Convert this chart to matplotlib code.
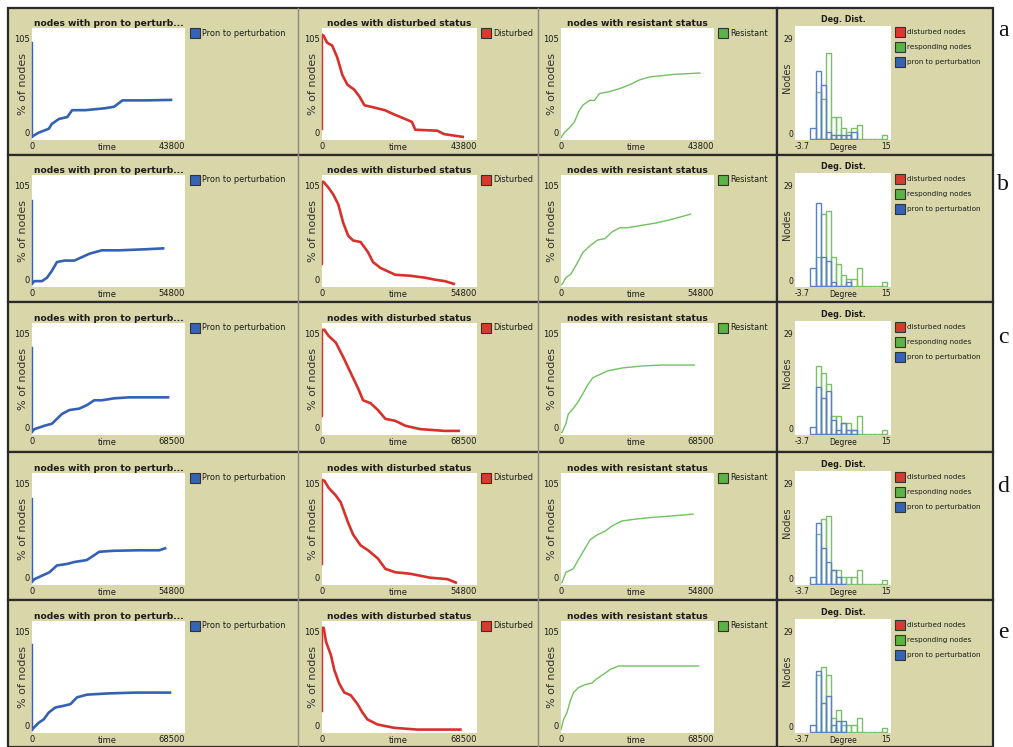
import matplotlib
matplotlib.use("Agg")
import matplotlib.pyplot as plt
from matplotlib.patches import Rectangle

W, H = 1013, 747

# ---- data ----
panel_labels = ["a", "b", "c", "d", "e"]
time_max = [43800, 54800, 68500, 54800, 68500]

# blue pen "Pron to perturbation" (value of the first plotted point, then the curve)
pron_start = [98, 86, 87, 86, 88]
pron_t = [
    [0, 480, 1900, 4800, 5700, 7700, 10100, 11500, 15300, 21000, 23500, 25900, 32600, 39800],
    [0, 880, 3560, 5370, 7120, 8930, 11620, 15180, 17860, 20550, 24990, 31240, 40170, 46960],
    [0, 1120, 5580, 8920, 11160, 13390, 16730, 21200, 24540, 27890, 31230, 36810, 43510, 52430, 60910],
    [0, 880, 3560, 6250, 8930, 12490, 15180, 19620, 22300, 24110, 29430, 38360, 45540, 47680],
    [0, 750, 3000, 5230, 7480, 10470, 14210, 17200, 20190, 24670, 34400, 46370, 61780],
]
pron_v = [
    [1, 2, 5, 9, 14, 19, 21, 28, 28, 30, 31.5, 38, 38, 38.5],
    [1, 3.5, 3.5, 7, 14, 23, 24.5, 24.5, 28, 31.5, 35, 35, 36, 37],
    [1, 3.5, 7, 9, 14, 19, 23, 24.5, 28, 33, 33, 35, 36, 36, 36],
    [1, 3.5, 7, 10.5, 17.5, 19, 21, 23, 28, 31.5, 32.5, 33, 33, 35],
    [1, 2.8, 8, 11.4, 18.4, 23.6, 25.3, 27, 34, 36.7, 38, 38.8, 38.8],
]

# red pen "Disturbed"
dist_start = [9, 21, 17, 19, 20]
dist_t = [
    [0, 480, 1440, 2880, 4300, 5750, 7190, 9110, 10560, 12000, 14370, 17740, 20150, 23480, 25400, 26370, 32590, 34510, 39770],
    [0, 525, 2300, 4000, 5750, 7510, 9260, 11010, 13650, 16280, 18030, 20660, 25920, 31180, 36440, 39900, 43400, 46580],
    [0, 1100, 2850, 6110, 9410, 12690, 15980, 18160, 21450, 24740, 28020, 32400, 36780, 43350, 54230, 60410],
    [0, 880, 2300, 4880, 6630, 9260, 11010, 13650, 16280, 19780, 22410, 25920, 31180, 38140, 44280, 47290],
    [0, 730, 1760, 3960, 5430, 7620, 9820, 12760, 15700, 17890, 20080, 24530, 31880, 42110, 61160],
]
dist_v = [
    [105, 104, 97, 94, 82, 64, 54, 49, 42, 33, 31, 28, 24, 19, 16, 8, 7, 3.5, 0.7],
    [105, 105, 99, 92, 82, 63, 50, 45, 43.5, 33, 23, 17, 10, 9, 7, 5, 3.5, 0.7],
    [105, 105, 99, 92, 77, 61, 45, 33, 30, 23, 14, 12, 7, 3.5, 1.7, 1.7],
    [105, 104, 97, 89, 82, 61, 49, 38, 33, 24.5, 14, 10.5, 9, 5, 3.5, 0],
    [105, 105, 91, 77, 62, 48, 39, 36, 27, 18.4, 11.4, 6.2, 2.8, 1, 1],
]

# green pen "Resistant"
res_t = [
    [0, 960, 2400, 3830, 5270, 6230, 8150, 9580, 11020, 13890, 16770, 19650, 22520, 25400, 32110, 39770],
    [0, 350, 1750, 3500, 5250, 7870, 10510, 13150, 15780, 18360, 20990, 23620, 28880, 34140, 39400, 46420],
    [0, 440, 2190, 3280, 5470, 7660, 9850, 12040, 14230, 17510, 20790, 27340, 36080, 44860, 59750],
    [0, 350, 1750, 4380, 6140, 7890, 10510, 13150, 15780, 18360, 21860, 27130, 32390, 39400, 47290],
    [0, 1160, 2670, 4180, 5620, 7880, 10820, 13840, 16030, 19040, 21990, 25690, 41310, 61650],
]
res_v = [
    [0, 5, 10, 16, 28, 33, 38, 38, 45, 47, 50, 54, 59, 62, 64.5, 66],
    [0, 0, 7, 10.5, 19, 33, 40, 45.5, 47, 54, 58, 58, 60.5, 63, 66.5, 72],
    [0, 0, 9, 19, 24.5, 31.5, 40, 49, 56, 59.5, 63, 66, 68, 69, 69],
    [0, 0, 10.5, 14, 23, 31.5, 44, 49, 52.5, 58, 63, 65, 66.5, 68, 70],
    [1, 11.4, 18.4, 30.5, 39, 44, 47, 48.5, 53, 57.5, 62.4, 66, 66, 66],
]

# degree distribution, bins of width 1 starting at -3.7 (None = bin not drawn)
deg_min, deg_max, deg_step = -3.7, 15, 1.0
N = None
resp_counts = [
    [N, N, N, N, 13, 11, 24, 6, 6, 3, 2, 3, 4, 0, 0, 0, 0, 1],
    [N, N, N, N, 8, 20, 21, 8, 6, 3, 2, 2, 5, 0, 0, 0, 0, 1],
    [N, N, N, N, 19, 17, 14, 5, 5, 3, 3, 1, 5, 0, 0, 0, 0, 1],
    [N, N, N, N, 14, 18, 19, 4, 4, 2, 2, 2, 4, 0, 0, 0, 0, 1],
    [N, N, N, N, 16, 18, 16, 4, 6, 2, 2, 2, 4, 0, 0, 0, 0, 1],
]
pron_counts = [
    [N, N, N, 3, 19, 15, 2, 1, 1, 1, 1, 2, N, N, N, N, N, N],
    [N, N, N, 5, 23, 8, 7, 1, 0, 0, 1, N, N, N, N, N, N, N],
    [N, N, N, 2, 13, 10, 12, 4, 1, 3, 1, 1, N, N, N, N, N, N],
    [N, N, N, 2, 17, 10, 6, 4, 2, 0, N, N, N, N, N, N, N, N],
    [N, N, N, 2, 17, 8, 10, 2, 3, 3, N, N, N, N, N, N, N, N],
]

plot_titles = ["nodes with pron to perturb...", "nodes with disturbed status", "nodes with resistant status"]
pen_names = ["Pron to perturbation", "Disturbed", "Resistant"]
hist_pens = ["disturbed nodes", "responding nodes", "pron to perturbation"]

# ---- style ----
BEIGE = "#d9d6a9"
BLUE, RED, GREEN = "#3461b3", "#d8302b", "#72c15f"
KEY_COLORS = ["#d93a2e", "#5bb345", "#3563b8"]
TXT = "#1c1c1c"

row_top = [9, 156, 304, 454, 602]
row_edge = [8, 155, 302, 452, 600, 747]
letter_y = [30, 185, 337, 487, 633]
cols_x = [(32, 185), (322, 477), (561, 714)]
key_x = [190, 481, 718]
hist_x = (795, 891)

plt.rcParams["font.family"] = ["DejaVu Sans"]
fig = plt.figure(figsize=(W / 100, H / 100), dpi=100)
fig.patch.set_facecolor("white")


def px_rect(x0, y0, x1, y1):
    return [x0 / W, 1 - y1 / H, (x1 - x0) / W, (y1 - y0) / H]


def add_box(x0, y0, x1, y1, **kw):
    fig.add_artist(Rectangle((x0 / W, 1 - y1 / H), (x1 - x0) / W, (y1 - y0) / H,
                             transform=fig.transFigure, **kw))


def key(x, yc, color, label, size):
    add_box(x, yc - 5, x + 10, yc + 5, facecolor=color, edgecolor="#333333", lw=0.8, zorder=3)
    fig.text((x + 12) / W, 1 - yc / H, label, fontsize=size, color=TXT, va="center", ha="left")


def time_axes(ax, tmax):
    ax.set_facecolor("white")
    for s in ax.spines.values():
        s.set_visible(False)
    ax.set_xlim(0, tmax)
    ax.set_ylim(-2.5, 112)
    ax.set_xticks([0, tmax])
    ax.set_xticklabels(["0", str(tmax)])
    ax.set_yticks([0, 105])
    ax.set_yticklabels(["0", "105"])
    ax.tick_params(length=0, labelsize=6, pad=1.5, colors=TXT)
    xl = ax.get_xticklabels()
    xl[0].set_ha("center")
    xl[1].set_ha("right")
    yl = ax.get_yticklabels()
    yl[0].set_va("bottom")
    yl[1].set_va("top")
    ax.set_xlabel("time", fontsize=6, color=TXT)
    ax.xaxis.set_label_coords(0.49, -0.025)
    ax.set_ylabel("% of nodes", fontsize=8, color="#333333")
    ax.yaxis.set_label_coords(-0.025, 0.5)


for i in range(5):
    top = row_top[i]
    y0, y1 = row_edge[i], row_edge[i + 1]
    # panel backgrounds
    add_box(8, y0, 777, y1, facecolor=BEIGE, edgecolor="#2a2a2a", lw=1.6, zorder=-5)
    add_box(777, y0, 993, y1, facecolor=BEIGE, edgecolor="#2a2a2a", lw=1.6, zorder=-5)
    for sx in (298, 538):
        fig.add_artist(plt.Line2D([sx / W, sx / W], [1 - y0 / H, 1 - y1 / H],
                                  transform=fig.transFigure, color="#8a8a80", lw=1.0, zorder=-4))

    series = [
        (pron_t[i], pron_v[i], pron_start[i], BLUE, 1.9),
        (dist_t[i], dist_v[i], dist_start[i], RED, 1.9),
        (res_t[i], res_v[i], None, GREEN, 1.0),
    ]
    for c, (t, v, start, color, lw) in enumerate(series):
        xa, xb = cols_x[c]
        ax = fig.add_axes(px_rect(xa, top + 19, xb, top + 131))
        time_axes(ax, time_max[i])
        if start is not None:
            ax.plot([t[0], t[0]], [start, v[0]], color=color, lw=1.0, clip_on=False)
        ax.plot(t, v, color=color, lw=lw, solid_joinstyle="round")
        ax.set_title(plot_titles[c], fontsize=6.6, fontweight="bold", color=TXT, pad=1.5)
        key(key_x[c], top + 24, KEY_COLORS[[2, 0, 1][c]], pen_names[c], 5.9)

    # degree distribution
    hx = fig.add_axes(px_rect(hist_x[0], top + 17, hist_x[1], top + 131))
    hx.set_facecolor("white")
    for s in hx.spines.values():
        s.set_visible(False)
    for counts, color in ((resp_counts[i], "#79c067"), (pron_counts[i], "#5a80c8")):
        lefts = [deg_min + k * deg_step for k, n in enumerate(counts) if n is not None]
        heights = [n for n in counts if n is not None]
        hx.bar(lefts, heights, width=deg_step, align="edge", fill=False,
               edgecolor=color, lw=1.0)
    hx.set_xlim(deg_min, deg_max)
    hx.set_ylim(-0.3, 31.5)
    hx.set_xticks([deg_min, deg_max])
    hx.set_xticklabels(["-3.7", "15"])
    hx.set_yticks([0, 29])
    hx.set_yticklabels(["0", "29"])
    hx.tick_params(length=0, labelsize=5.5, pad=1.5, colors=TXT)
    hl = hx.get_xticklabels()
    hl[0].set_ha("left")
    hl[1].set_ha("right")
    vl = hx.get_yticklabels()
    vl[0].set_va("bottom")
    vl[1].set_va("top")
    hx.set_xlabel("Degree", fontsize=5.5, color=TXT)
    hx.xaxis.set_label_coords(0.5, -0.022)
    hx.set_ylabel("Nodes", fontsize=7, color="#333333")
    hx.yaxis.set_label_coords(-0.035, 0.55)
    hx.set_title("Deg. Dist.", fontsize=5.8, fontweight="bold", color=TXT, pad=3)
    for j, name in enumerate(hist_pens):
        key(895, top + 23 + 15 * j, KEY_COLORS[j], name, 5.2)

    fig.text(1003 / W, 1 - letter_y[i] / H, panel_labels[i], family="Liberation Serif",
             fontsize=17, ha="center", va="center", color="#111111")

fig.savefig("out.png", dpi=100, facecolor="white")
